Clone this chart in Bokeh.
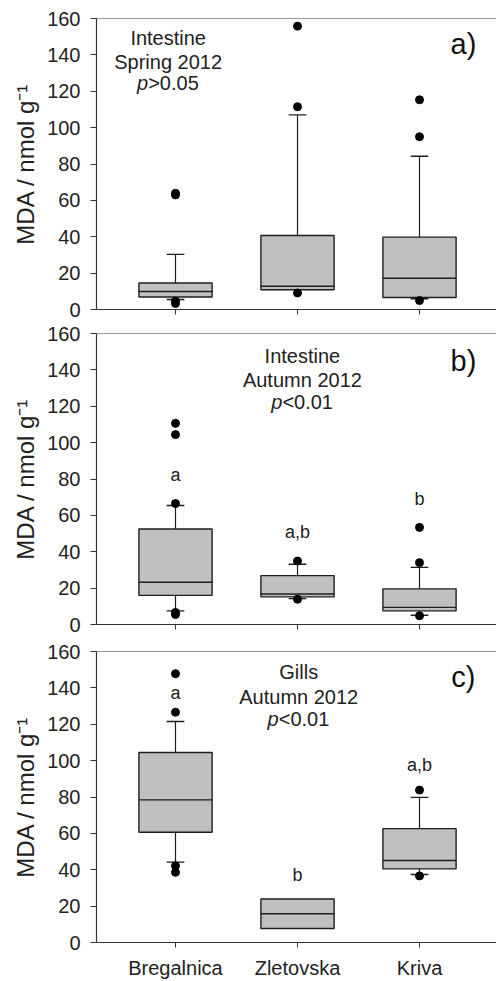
import numpy as np
from bokeh.plotting import figure
from bokeh.models import ColumnDataSource, FixedTicker, Label, Span
from bokeh.layouts import column
from bokeh.embed import file_html
from bokeh.resources import INLINE

nan = float("nan")

categories = ["Bregalnica", "Zletovska", "Kriva"]
cat_x = [1, 2, 3]
y_ticks = [0, 20, 40, 60, 80, 100, 120, 140, 160]

# ---- panel a: Intestine, Spring 2012
a_q1 = [6.9, 10.9, 6.6]
a_median = [9.9, 12.8, 17.2]
a_q3 = [14.6, 40.7, 39.8]
a_whisker_low = [5.5, nan, 5.9]
a_whisker_high = [30.3, 107.0, 84.3]
a_out_cat = [1, 1, 1, 1, 2, 2, 2, 3, 3, 3]
a_out_val = [63.9, 63.0, 4.6, 3.3, 155.8, 111.5, 9.1, 115.3, 95.0, 4.9]
a_letters = []
a_letter_y = []

# ---- panel b: Intestine, Autumn 2012
b_q1 = [16.0, 15.2, 7.5]
b_median = [23.2, 16.8, 9.4]
b_q3 = [52.5, 26.9, 19.6]
b_whisker_low = [7.5, 14.2, 5.1]
b_whisker_high = [65.4, 33.1, 31.4]
b_out_cat = [1, 1, 1, 1, 1, 2, 2, 3, 3, 3]
b_out_val = [110.6, 104.4, 66.5, 6.6, 5.5, 34.9, 13.9, 53.4, 34.0, 4.8]
b_letters = ["a", "a,b", "b"]
b_letter_y = [82.4, 50.8, 69.1]

# ---- panel c: Gills, Autumn 2012
c_q1 = [60.6, 7.7, 40.5]
c_median = [78.4, 15.8, 45.1]
c_q3 = [104.5, 23.9, 62.6]
c_whisker_low = [44.2, nan, 37.4]
c_whisker_high = [121.5, nan, 79.8]
c_out_cat = [1, 1, 1, 1, 3, 3]
c_out_val = [147.8, 126.6, 42.2, 38.6, 83.8, 36.6]
c_letters = ["a", "b", "a,b"]
c_letter_y = [137.2, 37.3, 97.5]

FONT = "Liberation Sans"
BOX_W = 0.6
CAP_W = 0.145
LINE = "#1e1e1e"
FILL = "#c0c0c0"


def make_panel(q1, med, q3, wlo, whi, out_cat, out_val, letters, letter_y,
               title_lines, p_text, title_x, title_y, tag, tag_x, tag_y,
               show_labels, top_border, bottom_border):
    p = figure(frame_width=400, frame_height=291,
               x_range=(0.3525, 3.631), y_range=(0, 160),
               output_backend="svg", toolbar_location=None,
               min_border_left=96, min_border_right=0,
               min_border_top=top_border, min_border_bottom=bottom_border)
    p.outline_line_color = None
    p.xgrid.visible = False
    p.ygrid.visible = False
    p.background_fill_color = "white"
    p.border_fill_color = "white"

    x = np.array(cat_x, dtype=float)
    src = ColumnDataSource(dict(
        x=x, q1=q1, med=med, q3=q3, wlo=wlo, whi=whi,
        xl=x - BOX_W / 2, xr=x + BOX_W / 2,
        cl=x - CAP_W / 2, cr=x + CAP_W / 2,
    ))
    # whiskers
    p.segment(x0="x", y0="q3", x1="x", y1="whi", source=src, line_color=LINE, line_width=1.2)
    p.segment(x0="x", y0="q1", x1="x", y1="wlo", source=src, line_color=LINE, line_width=1.2)
    p.segment(x0="cl", y0="whi", x1="cr", y1="whi", source=src, line_color=LINE, line_width=1.4)
    p.segment(x0="cl", y0="wlo", x1="cr", y1="wlo", source=src, line_color=LINE, line_width=1.4)
    # boxes
    p.vbar(x="x", width=BOX_W, bottom="q1", top="q3", source=src,
           fill_color=FILL, line_color=LINE, line_width=1.4)
    p.segment(x0="xl", y0="med", x1="xr", y1="med", source=src, line_color=LINE, line_width=1.4)
    # outliers
    p.scatter(x=out_cat, y=out_val, size=8, color="black")
    # significance letters
    if letters:
        lsrc = ColumnDataSource(dict(x=cat_x, y=letter_y, t=letters))
        p.text(x="x", y="y", text="t", source=lsrc, text_align="center",
               text_baseline="middle", text_font_size="18px", text_color="#222222",
               text_font={"value": FONT})

    # title block
    for ln, yy in zip(title_lines, title_y[:2]):
        p.add_layout(Label(x=title_x, y=yy, text=ln, text_align="center",
                           text_baseline="middle", text_font=FONT,
                           text_font_size="20px", text_color="#222222"))
    p.add_layout(Label(x=title_x, y=title_y[2], x_offset=-20, text="p",
                       text_align="right", text_baseline="middle", text_font=FONT,
                       text_font_style="italic", text_font_size="20px",
                       text_color="#222222"))
    p.add_layout(Label(x=title_x, y=title_y[2], x_offset=-20, text=p_text,
                       text_align="left", text_baseline="middle", text_font=FONT,
                       text_font_size="20px", text_color="#222222"))
    p.add_layout(Label(x=tag_x, y=tag_y, text=tag, text_align="center",
                       text_baseline="middle", text_font=FONT,
                       text_font_size="29px", text_color="#111111"))

    # top border line
    p.add_layout(Span(location=160, dimension="width", line_color="#333333", line_width=1.2))

    # axes
    p.yaxis.ticker = FixedTicker(ticks=y_ticks)
    p.yaxis.minor_tick_line_color = None
    p.yaxis.major_tick_out = 6
    p.yaxis.major_tick_in = 0
    p.yaxis.major_label_standoff = 10
    p.yaxis.major_label_text_font = FONT
    p.yaxis.major_label_text_font_size = "20px"
    p.yaxis.major_label_text_color = "#222222"
    p.yaxis.axis_line_color = "#333333"
    p.yaxis.axis_line_width = 1.2
    p.yaxis.major_tick_line_color = "#333333"
    p.yaxis.axis_label = "MDA / nmol g\u207b\u00b9"
    p.yaxis.axis_label_text_font = FONT
    p.yaxis.axis_label_text_font_style = "normal"
    p.yaxis.axis_label_text_font_size = "24px"
    p.yaxis.axis_label_text_color = "#222222"
    p.yaxis.axis_label_standoff = 5

    p.xaxis.ticker = FixedTicker(ticks=cat_x)
    p.xaxis.minor_tick_line_color = None
    p.xaxis.major_tick_out = 5
    p.xaxis.major_tick_in = 0
    p.xaxis.axis_line_color = "#333333"
    p.xaxis.axis_line_width = 1.2
    p.xaxis.major_tick_line_color = "#333333"
    p.xaxis.major_label_text_font = FONT
    p.xaxis.major_label_text_color = "#222222"
    if show_labels:
        p.xaxis.major_label_overrides = {i: c for i, c in zip(cat_x, categories)}
        p.xaxis.major_label_text_font_size = "20px"
        p.xaxis.major_label_standoff = 9
    else:
        p.xaxis.major_label_overrides = {i: "" for i in cat_x}
        p.xaxis.major_label_text_font_size = "1px"
        p.xaxis.major_label_standoff = 0
    return p


pa = make_panel(a_q1, a_median, a_q3, a_whisker_low, a_whisker_high,
                a_out_cat, a_out_val, a_letters, a_letter_y,
                ["Intestine", "Spring 2012"], ">0.05", 0.94, [149.4, 136.3, 124.3],
                "a)", 3.36, 146.0, False, 18, 12)
pb = make_panel(b_q1, b_median, b_q3, b_whisker_low, b_whisker_high,
                b_out_cat, b_out_val, b_letters, b_letter_y,
                ["Intestine", "Autumn 2012"], "<0.01", 2.04, [147.9, 134.7, 122.1],
                "b)", 3.36, 145.0, False, 12, 13)
pc = make_panel(c_q1, c_median, c_q3, c_whisker_low, c_whisker_high,
                c_out_cat, c_out_val, c_letters, c_letter_y,
                ["Gills", "Autumn 2012"], "<0.01", 2.01, [148.8, 135.1, 123.1],
                "c)", 3.36, 146.0, True, 14, 37)

layout = column(pa, pb, pc, spacing=0)
open("out.html", "w").write(file_html(layout, INLINE))
